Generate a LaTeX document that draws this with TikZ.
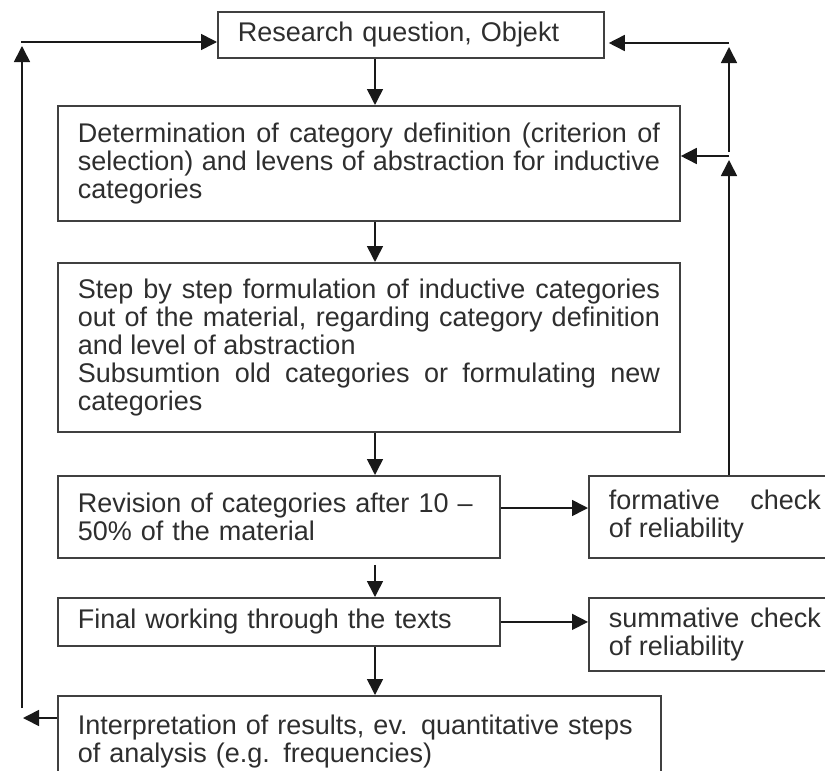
\documentclass[tikz,border=0pt]{standalone}
\usepackage{fontspec}
\setmainfont{Liberation Sans}
\usetikzlibrary{arrows.meta}

\begin{document}
\begin{tikzpicture}[x=1pt, y=-1pt,
    box/.style={draw=boxcolor, line width=1.8pt, anchor=north west, inner xsep=20pt, inner ysep=0pt,
        text=textcolor, font=\fontsize{27}{28}\selectfont},
    flow/.style={draw=linecolor, line width=1.6pt, -{Triangle[length=16pt,width=16pt]}}]

    % Farben
    \definecolor{boxcolor}{rgb}{0.25, 0.25, 0.25}
    \definecolor{linecolor}{rgb}{0.1, 0.1, 0.1}
    \definecolor{textcolor}{rgb}{0.18, 0.18, 0.18}

    % Rahmen
    \useasboundingbox (0,0) rectangle (825,771);
    \clip (0,0) rectangle (825,771);

    % Kästen
    \node[box, text width=346pt, minimum height=46pt, align=left] (question) at (217,11) {Research question, Objekt};
    \node[box, text width=582pt, minimum height=115pt, align=justify] (definition) at (57,105)
        {Determination of category definition (criterion of\linebreak selection) and levens of abstraction for inductive\linebreak categories};
    \node[box, text width=582pt, minimum height=169pt, align=justify] (formulation) at (57,262)
        {Step by step formulation of inductive categories\linebreak out of the material, regarding category definition\linebreak and level of abstraction\\ Subsumtion old categories or formulating new\linebreak categories};
    \node[box, text width=402pt, minimum height=82pt, align=left] (revision) at (57,475) {Revision of categories after 10 –\\50\% of the material};
    \node[box, text width=212pt, minimum height=82pt, align=justify] (formative) at (588,475) {formative check\linebreak of reliability};
    \node[box, text width=402pt, minimum height=48pt, align=left] (final) at (57,597) {Final working through the texts};
    \node[box, text width=212pt, minimum height=73pt, align=justify] (summative) at (588,597) {summative check\linebreak of reliability};
    \node[box, text width=563pt, minimum height=92pt, align=left] (interpretation) at (57,695)
        {Interpretation of results, ev. quantitative steps\\of analysis (e.g. frequencies)};

    % Hilfspunkte
    \coordinate (spine) at (375,0);
    \coordinate (check) at (0,508);
    \coordinate (lout) at (23,718);
    \coordinate (lbot) at (22,708);
    \coordinate (lup) at (22,46);
    \coordinate (ltop) at (21,42);
    \coordinate (rlow) at (729,160);
    \coordinate (rmid) at (729,156);
    \coordinate (rhigh) at (729,152);
    \coordinate (rup) at (729,47);
    \coordinate (rtop) at (729,43);

    % Pfeile nach unten
    \draw[flow] (question.south -| spine) -- (definition.north -| spine);
    \draw[flow] (definition.south -| spine) -- (formulation.north -| spine);
    \draw[flow] (formulation.south -| spine) -- (revision.north -| spine);
    \draw[flow, shorten <=6pt] (revision.south -| spine) -- (final.north -| spine);
    \draw[flow] (final.south -| spine) -- (interpretation.north -| spine);

    % Prüfungen
    \draw[flow] (revision.east |- check) -- (formative.west |- check);
    \draw[flow] (final.east) -- (summative.west |- final.east);

    % Rückkopplung links
    \draw[flow] (interpretation.west |- lout) -- (lout);
    \draw[flow] (lbot) -- (lup);
    \draw[flow] (ltop) -- (question.west |- ltop);

    % Rückkopplung rechts
    \draw[flow] (formative.north -| rlow) -- (rlow);
    \draw[flow] (rmid) -- (definition.east |- rmid);
    \draw[flow] (rhigh) -- (rup);
    \draw[flow, shorten >=4pt] (rtop) -- (question.east |- rtop);

\end{tikzpicture}
\end{document}
